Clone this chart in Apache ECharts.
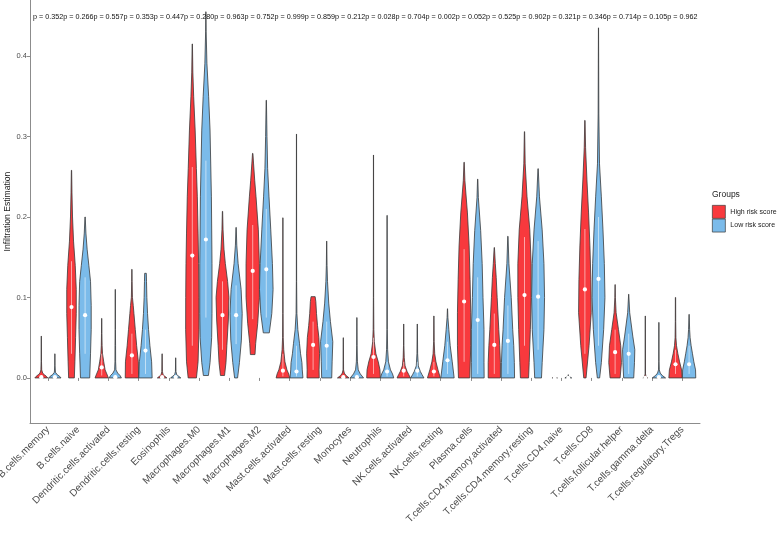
<!DOCTYPE html>
<html>
<head>
<meta charset="utf-8">
<script src="https://cdn.jsdelivr.net/npm/echarts@6/dist/echarts.min.js"></script>
<style>
  html, body { margin: 0; padding: 0; background: #fff; }
  #main { width: 777px; height: 542px; }
</style>
</head>
<body>
<div id="main"></div>
<script>
// cell types on the x axis
var categories = ['B.cells.memory', 'B.cells.naive', 'Dendritic.cells.activated', 'Dendritic.cells.resting',
  'Eosinophils', 'Macrophages.M0', 'Macrophages.M1', 'Macrophages.M2', 'Mast.cells.activated',
  'Mast.cells.resting', 'Monocytes', 'Neutrophils', 'NK.cells.activated', 'NK.cells.resting',
  'Plasma.cells', 'T.cells.CD4.memory.activated', 'T.cells.CD4.memory.resting', 'T.cells.CD4.naive',
  'T.cells.CD8', 'T.cells.follicular.helper', 'T.cells.gamma.delta', 'T.cells.regulatory.Tregs'];

var pValues = ['0.352', '0.266', '0.557', '0.353', '0.447', '0.280', '0.963', '0.752', '0.999', '0.859', '0.212',
  '0.028', '0.704', '0.002', '0.052', '0.525', '0.902', '0.321', '0.346', '0.714', '0.105', '0.962'];

// violin outlines: [estimation, relative half width] from bottom to top
var highShape = [
  [[0, 0.95], [0.002, 0.75], [0.004, 0.45], [0.006, 0.2], [0.01, 0.06], [0.02, 0.03], [0.052, 0.01]],
  [[0, 0.42], [0.02, 0.5], [0.05, 0.6], [0.08, 0.7], [0.11, 0.7], [0.14, 0.55], [0.17, 0.3], [0.2, 0.15], [0.23, 0.07], [0.258, 0.02]],
  [[0, 0.98], [0.005, 0.75], [0.01, 0.5], [0.02, 0.3], [0.03, 0.12], [0.04, 0.06], [0.055, 0.03], [0.074, 0.01]],
  [[0, 0.98], [0.02, 0.95], [0.04, 0.7], [0.06, 0.5], [0.08, 0.3], [0.09, 0.2], [0.1, 0.08], [0.12, 0.03], [0.135, 0.01]],
  [[0, 0.7], [0.002, 0.4], [0.004, 0.15], [0.008, 0.04], [0.03, 0.01]],
  [[0, 0.61], [0.02, 0.85], [0.06, 0.98], [0.1, 0.97], [0.142, 0.93], [0.18, 0.85], [0.225, 0.74], [0.26, 0.6], [0.308, 0.42], [0.35, 0.2], [0.38, 0.08], [0.415, 0.02]],
  [[0.003, 0.3], [0.019, 0.51], [0.04, 0.64], [0.072, 0.86], [0.1, 0.95], [0.12, 0.75], [0.142, 0.42], [0.16, 0.22], [0.184, 0.08], [0.207, 0.02]],
  [[0.029, 0.34], [0.043, 0.44], [0.068, 0.74], [0.1, 0.98], [0.142, 0.98], [0.184, 0.83], [0.225, 0.49], [0.245, 0.3], [0.267, 0.12], [0.279, 0.03]],
  [[0, 1.0], [0.005, 0.85], [0.01, 0.6], [0.02, 0.3], [0.035, 0.12], [0.05, 0.05], [0.08, 0.025], [0.199, 0.01]],
  [[0, 0.9], [0.01, 0.88], [0.03, 0.95], [0.05, 0.85], [0.065, 0.65], [0.08, 0.5], [0.095, 0.4], [0.101, 0.3]],
  [[0, 0.86], [0.003, 0.4], [0.006, 0.15], [0.01, 0.04], [0.05, 0.01]],
  [[0, 1.0], [0.01, 0.95], [0.02, 0.7], [0.03, 0.35], [0.045, 0.12], [0.06, 0.05], [0.1, 0.02], [0.277, 0.01]],
  [[0, 0.98], [0.004, 0.75], [0.008, 0.5], [0.015, 0.2], [0.025, 0.08], [0.04, 0.03], [0.067, 0.01]],
  [[0, 0.95], [0.01, 0.6], [0.02, 0.3], [0.03, 0.12], [0.045, 0.04], [0.077, 0.01]],
  [[0, 0.83], [0.04, 0.98], [0.081, 0.98], [0.122, 0.88], [0.164, 0.74], [0.205, 0.49], [0.245, 0.12], [0.268, 0.02]],
  [[0, 0.9], [0.019, 0.9], [0.04, 0.8], [0.06, 0.66], [0.1, 0.42], [0.125, 0.28], [0.142, 0.15], [0.162, 0.02]],
  [[0, 0.6], [0.019, 0.69], [0.06, 0.86], [0.1, 0.98], [0.142, 0.98], [0.184, 0.78], [0.225, 0.37], [0.266, 0.1], [0.306, 0.02]],
  [[0, 0.4], [0.001, 0.05], [0.002, 0.01]],
  [[0, 0.17], [0.04, 0.61], [0.081, 0.93], [0.122, 0.88], [0.164, 0.74], [0.205, 0.54], [0.246, 0.3], [0.286, 0.1], [0.32, 0.02]],
  [[0, 0.74], [0.019, 0.93], [0.04, 0.83], [0.06, 0.5], [0.081, 0.15], [0.1, 0.04], [0.116, 0.01]],
  [[0, 0.35], [0.002, 0.1], [0.005, 0.03], [0.077, 0.01]],
  [[0, 0.98], [0.01, 0.9], [0.02, 0.6], [0.03, 0.35], [0.04, 0.15], [0.05, 0.06], [0.07, 0.03], [0.1, 0.02]]
];
var highMedian = [0.001, 0.088, 0.013, 0.028, 0.001, 0.152, 0.078, 0.133, 0.009, 0.041, 0.001,
  0.026, 0.009, 0.008, 0.095, 0.041, 0.103, 0, 0.11, 0.032, 0, 0.017];
var highIqr = [[0, 0.003], [0.03, 0.145], [0.003, 0.03], [0.005, 0.055], [0, 0.002], [0.04, 0.262], [0.035, 0.12],
  [0.073, 0.19], [0.002, 0.03], [0.01, 0.07], [0, 0.003], [0.005, 0.05], [0.002, 0.02], [0.002, 0.02], [0.02, 0.16],
  [0.005, 0.08], [0.04, 0.175], [0, 0], [0.03, 0.185], [0.005, 0.06], [0, 0.001], [0.005, 0.035]];

var lowShape = [
  [[0, 0.9], [0.002, 0.7], [0.004, 0.35], [0.007, 0.08], [0.015, 0.02], [0.03, 0.01]],
  [[0, 0.68], [0.03, 0.8], [0.06, 0.9], [0.09, 0.9], [0.12, 0.8], [0.14, 0.55], [0.16, 0.3], [0.18, 0.12], [0.2, 0.02]],
  [[0, 0.9], [0.003, 0.7], [0.006, 0.35], [0.01, 0.1], [0.02, 0.05], [0.04, 0.04], [0.06, 0.02], [0.11, 0.01]],
  [[0, 0.98], [0.02, 0.9], [0.04, 0.65], [0.06, 0.45], [0.08, 0.3], [0.1, 0.2], [0.12, 0.15], [0.13, 0.12]],
  [[0, 0.75], [0.002, 0.45], [0.004, 0.15], [0.008, 0.04], [0.025, 0.01]],
  [[0.003, 0.37], [0.019, 0.61], [0.05, 0.85], [0.08, 0.9], [0.142, 0.9], [0.225, 0.81], [0.308, 0.61], [0.35, 0.4], [0.391, 0.15], [0.43, 0.04], [0.455, 0.01]],
  [[0, 0.22], [0.019, 0.49], [0.047, 0.78], [0.08, 0.9], [0.11, 0.74], [0.142, 0.3], [0.165, 0.1], [0.187, 0.02]],
  [[0.056, 0.44], [0.08, 0.81], [0.11, 1.0], [0.142, 0.9], [0.184, 0.66], [0.225, 0.4], [0.26, 0.2], [0.3, 0.1], [0.345, 0.02]],
  [[0, 0.95], [0.01, 0.85], [0.019, 0.8], [0.03, 0.6], [0.043, 0.44], [0.06, 0.2], [0.08, 0.06], [0.12, 0.02], [0.303, 0.01]],
  [[0, 0.74], [0.02, 0.8], [0.045, 0.9], [0.07, 0.55], [0.093, 0.3], [0.12, 0.12], [0.14, 0.05], [0.17, 0.01]],
  [[0, 0.98], [0.005, 0.5], [0.01, 0.2], [0.02, 0.08], [0.04, 0.03], [0.075, 0.01]],
  [[0, 0.98], [0.005, 0.8], [0.01, 0.5], [0.02, 0.2], [0.035, 0.08], [0.06, 0.03], [0.202, 0.01]],
  [[0, 0.98], [0.004, 0.7], [0.008, 0.45], [0.015, 0.15], [0.03, 0.05], [0.067, 0.01]],
  [[0, 0.98], [0.02, 0.7], [0.04, 0.4], [0.06, 0.2], [0.075, 0.06], [0.086, 0.01]],
  [[0, 0.95], [0.019, 0.93], [0.06, 0.93], [0.1, 0.78], [0.142, 0.66], [0.183, 0.44], [0.224, 0.1], [0.247, 0.02]],
  [[0, 0.98], [0.019, 0.95], [0.04, 0.86], [0.06, 0.71], [0.1, 0.49], [0.142, 0.15], [0.176, 0.02]],
  [[0, 0.5], [0.019, 0.6], [0.06, 0.86], [0.1, 0.95], [0.142, 0.86], [0.184, 0.6], [0.225, 0.2], [0.26, 0.02]],
  [[0, 0.5], [0.002, 0.05], [0.004, 0.01]],
  [[0, 0.17], [0.019, 0.42], [0.06, 0.76], [0.1, 0.95], [0.142, 0.86], [0.184, 0.66], [0.225, 0.42], [0.266, 0.15], [0.328, 0.05], [0.435, 0.01]],
  [[0, 0.74], [0.019, 0.85], [0.035, 0.9], [0.052, 0.6], [0.081, 0.15], [0.104, 0.01]],
  [[0, 0.98], [0.003, 0.5], [0.006, 0.2], [0.01, 0.06], [0.02, 0.02], [0.069, 0.01]],
  [[0, 0.98], [0.01, 0.95], [0.02, 0.7], [0.03, 0.5], [0.04, 0.3], [0.05, 0.15], [0.06, 0.08], [0.079, 0.01]]
];
var lowMedian = [0.001, 0.078, 0.001, 0.034, 0.001, 0.172, 0.078, 0.135, 0.008, 0.04, 0.001,
  0.008, 0.009, 0.022, 0.072, 0.046, 0.101, 0, 0.123, 0.03, 0.001, 0.017];
var lowIqr = [[0, 0.002], [0.03, 0.125], [0, 0.004], [0.005, 0.06], [0, 0.002], [0.075, 0.27], [0.042, 0.115],
  [0.075, 0.21], [0.002, 0.04], [0.01, 0.07], [0, 0.004], [0.002, 0.02], [0.002, 0.02], [0.005, 0.045], [0.005, 0.125],
  [0.005, 0.09], [0.035, 0.17], [0, 0], [0.04, 0.2], [0.005, 0.055], [0, 0.002], [0.005, 0.04]];

var yTicks = [0, 0.1, 0.2, 0.3, 0.4];

var HIGH_COLOR = '#F8393D';
var LOW_COLOR = '#7BBBEA';
var DODGE = 0.225;      // half of the dodge width, in category bands
var P_LABEL_Y = 0.4485; // height of the p value row

function violinRenderer(shapes, medians, iqrs, side, color) {
  return function (params, api) {
    var i = api.value(0);
    var prof = shapes[i];
    var band = api.size([1, 0])[0];
    var cx = api.coord([i, 0])[0] + side * band * DODGE;
    var half = band * DODGE;
    var pts = [];
    prof.forEach(function (p) {
      pts.push([cx + p[1] * half, api.coord([i, p[0]])[1]]);
    });
    prof.slice().reverse().forEach(function (p) {
      pts.push([cx - p[1] * half, api.coord([i, p[0]])[1]]);
    });
    var lo = api.coord([i, iqrs[i][0]])[1];
    var hi = api.coord([i, iqrs[i][1]])[1];
    var med = api.coord([i, medians[i]])[1];
    return {
      type: 'group',
      children: [{
        type: 'polygon',
        shape: { points: pts },
        style: { fill: color, stroke: '#3a3a3a', lineWidth: 0.8 }
      }, {
        type: 'line',
        shape: { x1: cx, y1: lo, x2: cx, y2: hi },
        style: { stroke: 'rgba(255,255,255,0.55)', lineWidth: 1 }
      }, {
        type: 'circle',
        shape: { cx: cx, cy: med, r: 2.1 },
        style: { fill: '#ffffff' }
      }]
    };
  };
}

var indexData = categories.map(function (c, i) { return [i]; });

var chart = echarts.init(document.getElementById('main'), null, { renderer: 'canvas' });
chart.setOption({
  animation: false,
  backgroundColor: '#ffffff',
  textStyle: { fontFamily: 'Liberation Sans, Arial, sans-serif' },
  title: {
    text: 'Groups',
    left: 712,
    top: 190,
    padding: 0,
    textStyle: { fontSize: 8.5, fontWeight: 'normal', color: '#222' }
  },
  legend: {
    data: ['High risk score', 'Low risk score'],
    orient: 'vertical',
    left: 712,
    top: 205,
    padding: 0,
    itemWidth: 13,
    itemHeight: 13,
    itemGap: 0,
    icon: 'rect',
    itemStyle: { borderColor: '#3a3a3a', borderWidth: 0.7 },
    textStyle: { fontSize: 7, color: '#222' }
  },
  grid: [
    { left: 33, top: 0, width: 664.4, height: 423, containLabel: false, outerBoundsMode: 'none' },
    { left: 30, top: 0, width: 670, height: 423, containLabel: false, outerBoundsMode: 'none' }
  ],
  xAxis: [{
    type: 'category',
    gridIndex: 0,
    data: categories,
    boundaryGap: true,
    axisLine: { show: false },
    axisTick: { show: true, alignWithLabel: true, length: 3, lineStyle: { color: '#8c8c8c' } },
    axisLabel: { rotate: 45, interval: 0, fontSize: 10, color: '#4d4d4d', margin: 5 }
  }, {
    type: 'value',
    gridIndex: 1,
    min: 0,
    max: 1,
    axisLine: { show: true, lineStyle: { color: '#8c8c8c', width: 1 } },
    axisTick: { show: false },
    axisLabel: { show: false },
    splitLine: { show: false }
  }],
  yAxis: [{
    type: 'value',
    gridIndex: 0,
    min: -0.056,
    max: 0.4696,
    offset: 3,
    name: 'Infiltration Estimation',
    nameLocation: 'middle',
    nameGap: 18,
    nameMoveOverlap: false,
    nameTextStyle: { fontSize: 8.6, color: '#222' },
    axisLine: { show: true, lineStyle: { color: '#8c8c8c', width: 1 } },
    axisTick: { show: true, length: 3, customValues: yTicks, lineStyle: { color: '#8c8c8c' } },
    axisLabel: {
      fontSize: 7.5, color: '#4d4d4d', margin: 3, customValues: yTicks,
      formatter: function (v) { return v.toFixed(1); }
    },
    splitLine: { show: false }
  }, {
    type: 'value',
    gridIndex: 1,
    show: false
  }],
  series: [{
    name: 'High risk score',
    type: 'custom',
    xAxisIndex: 0,
    yAxisIndex: 0,
    itemStyle: { color: HIGH_COLOR },
    renderItem: violinRenderer(highShape, highMedian, highIqr, -1, HIGH_COLOR),
    data: indexData
  }, {
    name: 'Low risk score',
    type: 'custom',
    xAxisIndex: 0,
    yAxisIndex: 0,
    itemStyle: { color: LOW_COLOR },
    renderItem: violinRenderer(lowShape, lowMedian, lowIqr, 1, LOW_COLOR),
    data: indexData
  }, {
    name: 'pvalues',
    type: 'custom',
    xAxisIndex: 0,
    yAxisIndex: 0,
    renderItem: function (params, api) {
      var i = api.value(0);
      var pt = api.coord([i, P_LABEL_Y]);
      return {
        type: 'text',
        x: pt[0],
        y: pt[1],
        style: {
          text: 'p = ' + pValues[i],
          fontSize: 7.2,
          fontFamily: 'Liberation Sans, Arial, sans-serif',
          fill: '#111',
          align: 'center',
          verticalAlign: 'middle'
        }
      };
    },
    data: indexData
  }]
});
</script>
</body>
</html>
